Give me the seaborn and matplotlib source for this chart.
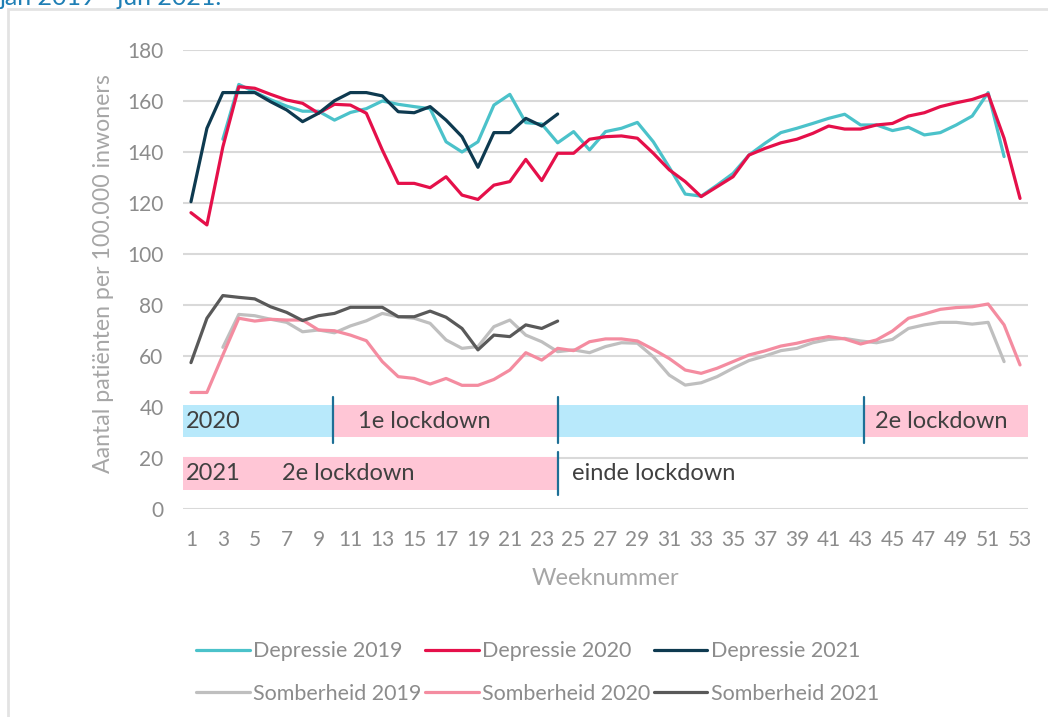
import numpy as np
import pandas as pd
import matplotlib.pyplot as plt
import matplotlib.patches as mpatches
import seaborn as sns

# ---------------------------
# DATA (weekly values per 100.000 inwoners)
# ---------------------------
weeks_2019 = list(range(3, 53))   # week 3 - 52
weeks_2020 = list(range(1, 54))   # week 1 - 53
weeks_2021 = list(range(1, 25))   # week 1 - 24

depressie_2019 = [145, 166.5, 163.5, 160.5, 158, 156, 156, 152.5, 155.5, 157,
                  160, 158.7, 157.8, 157, 144, 140, 144, 158.4, 162.6, 151.5,
                  151, 143.6, 148, 140.8, 148, 149.3, 151.6, 144, 134, 123.5,
                  122.7, 127, 131.6, 138.8, 143.4, 147.6, 149.3, 151.2, 153.2, 154.8,
                  150.6, 150.6, 148.4, 149.7, 146.7, 147.6, 150.6, 154.1, 163.3, 138.2]
depressie_2020 = [116.2, 111.4, 142, 165.6, 165, 162.6, 160.4, 159.1, 155.2, 158.7,
                  158.4, 155.2, 140.8, 127.7, 127.7, 126, 130.3, 123.1, 121.4, 127,
                  128.4, 137.1, 128.8, 139.5, 139.5, 145, 146, 146.3, 145.4, 139.5,
                  133, 128.4, 122.5, 126.4, 130.3, 138.8, 141.4, 143.6, 145, 147.3,
                  150.2, 149, 149, 150.6, 151.2, 154.1, 155.4, 157.8, 159.3, 160.6,
                  162.7, 145.4, 121.8]
depressie_2021 = [120.5, 149.3, 163.3, 163.3, 163.3, 159.7, 156.5, 151.9, 155.2, 160.1,
                  163.3, 163.3, 162, 155.8, 155.4, 157.8, 152.5, 146, 134, 147.6,
                  147.6, 153.2, 150.2, 154.9]

somberheid_2019 = [63.4, 76.3, 75.8, 74.4, 73.2, 69.5, 70.2, 69.1, 71.8, 73.8,
                   76.7, 75.4, 74.8, 72.8, 66.3, 63, 63.7, 71.5, 74.1, 68.2,
                   65.6, 61.7, 62.4, 61.3, 63.7, 65.2, 65, 59.7, 52.5, 48.6,
                   49.5, 51.9, 55.2, 58.2, 60, 62.1, 63, 65.2, 66.5, 66.9,
                   65.9, 65.2, 66.5, 70.8, 72.2, 73.2, 73.2, 72.5, 73.2, 57.8]
somberheid_2020 = [45.7, 45.7, 60.4, 74.8, 73.7, 74.4, 74.1, 74.1, 70.2, 69.9,
                   68.2, 66, 57.8, 51.9, 51.2, 49, 51.2, 48.5, 48.5, 50.8,
                   54.5, 61.3, 58.4, 63, 62.1, 65.6, 66.7, 66.7, 65.9, 62.6,
                   59, 54.5, 53.2, 55.2, 57.8, 60.4, 62, 63.9, 65, 66.5,
                   67.6, 66.7, 64.7, 66.3, 69.8, 74.8, 76.5, 78.3, 79, 79.3,
                   80.4, 72.2, 56.5]
somberheid_2021 = [57.4, 74.8, 83.7, 83, 82.4, 79.3, 77.1, 73.9, 75.8, 76.7,
                   79.1, 79.1, 79.1, 75.4, 75.4, 77.6, 75.2, 70.8, 62.4, 68.2,
                   67.6, 72.2, 70.8, 73.7]

# lockdown periods (week boundaries)
periods_2020 = [(0.5, 9.9, "blue"), (9.9, 24, "pink"), (24, 43.2, "blue"), (43.2, 53.5, "pink")]
periods_2021 = [(0.5, 24, "pink")]
markers_2020 = [9.9, 24, 43.2]
markers_2021 = [24]

# ---------------------------
# STYLE
# ---------------------------
sns.set_style("white")
plt.rcParams['font.family'] = ['Lato', 'DejaVu Sans']

colors = {
    "Depressie 2019": "#4BC2CA",
    "Depressie 2020": "#E5104A",
    "Depressie 2021": "#0E3A50",
    "Somberheid 2019": "#BFBFBF",
    "Somberheid 2020": "#F48CA0",
    "Somberheid 2021": "#595959",
}
band_colors = {"blue": "#B8E9FB", "pink": "#FFC6D6"}
text_grey = "#8C8C8C"

fig = plt.figure(figsize=(10.48, 7.17), dpi=100)
ax = fig.add_axes([183 / 1048, 1 - 509 / 717, 845 / 1048, 459 / 717])

series = [
    ("Depressie 2019", weeks_2019, depressie_2019),
    ("Depressie 2020", weeks_2020, depressie_2020),
    ("Depressie 2021", weeks_2021, depressie_2021),
    ("Somberheid 2019", weeks_2019, somberheid_2019),
    ("Somberheid 2020", weeks_2020, somberheid_2020),
    ("Somberheid 2021", weeks_2021, somberheid_2021),
]
handles = {}
for name, wk, vals in series:
    sns.lineplot(x=wk, y=vals, color=colors[name], linewidth=2.3, ax=ax, label=name)
    handles[name] = ax.get_lines()[-1]

# lockdown bands
for start, end, c in periods_2020:
    ax.fill_between([start, end], 28.2, 40.8, color=band_colors[c], lw=0, zorder=3)
for start, end, c in periods_2021:
    ax.fill_between([start, end], 7.5, 20.4, color=band_colors[c], lw=0, zorder=3)
for m in markers_2020:
    ax.plot([m, m], [26, 44], color="#1D6F96", lw=1.6, zorder=4)
for m in markers_2021:
    ax.plot([m, m], [5.5, 22.4], color="#1D6F96", lw=1.6, zorder=4)

band_font = dict(fontsize=17, color="#404040", va="center", zorder=5)
ax.text(0.7, 34.5, "2020", **band_font)
ax.text(11.5, 34.5, "1e lockdown", **band_font)
ax.text(43.9, 34.5, "2e lockdown", **band_font)
ax.text(0.7, 13.8, "2021", **band_font)
ax.text(6.7, 13.8, "2e lockdown", **band_font)
ax.text(24.9, 13.8, "einde lockdown", **band_font)

# axes
ax.set_xlim(0.5, 53.5)
ax.set_ylim(0, 180)
ax.set_yticks(range(0, 181, 20))
ax.set_xticks(range(1, 54, 2))
ax.grid(axis="y", color="#D9D9D9", lw=1.5)
ax.set_axisbelow(True)
sns.despine(ax=ax, left=True, bottom=True)
ax.tick_params(axis="both", length=0, labelsize=15, labelcolor=text_grey)
ax.tick_params(axis="y", pad=14)
ax.tick_params(axis="x", pad=15)
ax.set_ylabel("Aantal patiënten per 100.000 inwoners", fontsize=16.7, color="#A6A6A6")
ax.set_xlabel("Weeknummer", fontsize=17, color="#A6A6A6")
ax.yaxis.set_label_coords(-0.082, 0.514)
ax.xaxis.set_label_coords(0.5, -0.128)

# legend: column-major order so rows read Depressie / Somberheid
order = ["Depressie 2019", "Somberheid 2019", "Depressie 2020",
         "Somberheid 2020", "Depressie 2021", "Somberheid 2021"]
ax.get_legend().remove()
fig.legend([handles[n] for n in order], order, ncol=3, loc="center",
           bbox_to_anchor=(0.513, 0.062), frameon=False, fontsize=15.5,
           labelcolor="#8C8C8C", handlelength=2.5, handletextpad=0.15,
           columnspacing=0.15, labelspacing=1.05)

# outer frame and cut-off title
fig.add_artist(mpatches.Rectangle((8 / 1048, -0.1), 1.2, 1.1 - 9 / 717,
                                  transform=fig.transFigure, fill=False,
                                  ec="#E3E3E3", lw=2))
fig.text(0.0, 1 - 5 / 717, "jan 2019 - jun 2021.", fontsize=18,
         color="#1F7FB5", va="baseline")

plt.savefig("out.png", dpi=100)
